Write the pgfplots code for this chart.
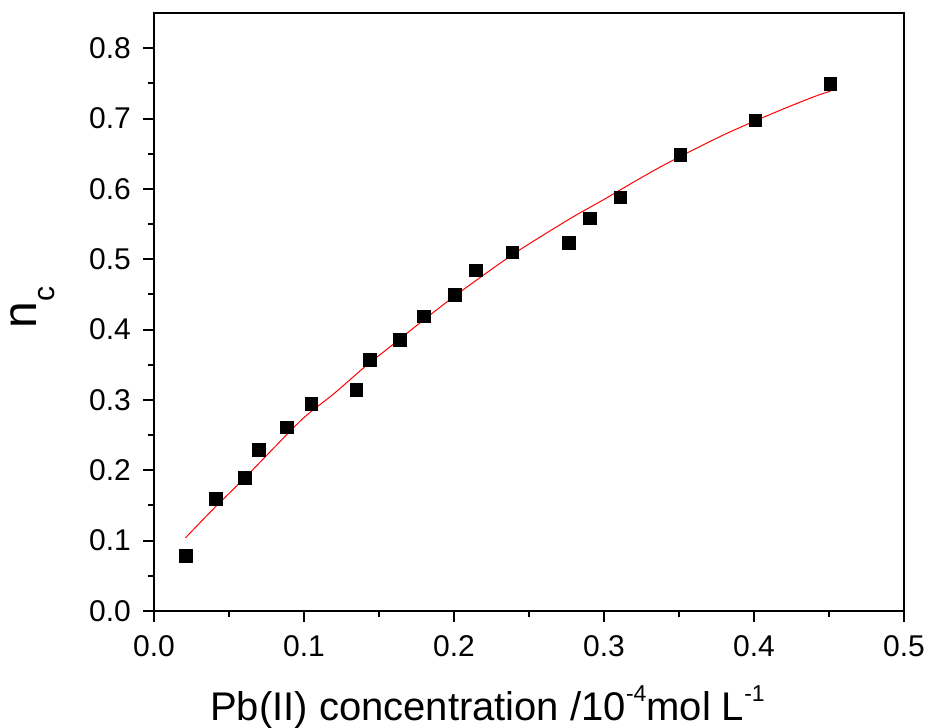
\documentclass[border=0pt]{standalone}
\usepackage{fontspec}
\setmainfont{Liberation Sans}
\usepackage{pgfplots}
\pgfplotsset{compat=1.18}
\begin{document}
\begin{tikzpicture}
\useasboundingbox (-154pt,-117pt) rectangle (775pt,611pt);
\begin{axis}[
  at={(0,0)}, anchor=south west,
  width=750pt, height=598pt, scale only axis,
  xmin=0, xmax=0.5, ymin=0, ymax=0.85,
  xtick={0,0.1,...,0.5}, ytick={0,0.1,...,0.8},
  minor x tick num=1, minor y tick num=1,
  xtick pos=left, ytick pos=left,
  tick align=outside,
  major tick length=11pt, minor tick length=6pt,
  every tick/.style={black, line width=2pt},
  axis line style={line width=2pt},
  /pgf/number format/assume math mode=true,
  /pgf/number format/fixed, /pgf/number format/fixed zerofill,
  /pgf/number format/precision=1,
  ticklabel style={font=\fontsize{30}{30}\selectfont, inner sep=0pt},
  xticklabel style={anchor=north, yshift=-13pt},
  yticklabel style={anchor=east, xshift=-12pt},
  xlabel={Pb(II) concentration /10\raisebox{19pt}{\fontsize{23}{23}\selectfont -4}mol L\raisebox{19pt}{\fontsize{23}{23}\selectfont -1}},
  xlabel style={font=\fontsize{40}{40}\selectfont, at={(axis description cs:0.0747,0)}, anchor=base west, yshift=-109pt, inner sep=0pt},
  ylabel={n\raisebox{-18pt}{\fontsize{30}{30}\selectfont c}},
  ylabel style={font=\fontsize{48}{48}\selectfont, at={(axis description cs:-0.156,0.507)}, anchor=base, inner sep=0pt},
  clip=false,
]
\addplot[red, line width=1pt, smooth] coordinates {
(0.021,0.104) (0.04,0.146) (0.06,0.188) (0.08,0.232) (0.1,0.275)
(0.12,0.309) (0.14,0.346) (0.16,0.380) (0.18,0.414) (0.2,0.447)
(0.22,0.478) (0.24,0.508) (0.26,0.535) (0.28,0.561) (0.3,0.585)
(0.32,0.610) (0.34,0.634) (0.36,0.656) (0.38,0.677) (0.4,0.696)
(0.42,0.714) (0.44,0.731) (0.451,0.739)
};
\addplot[only marks, mark=square*, mark size=6.2pt, mark options={fill=black, draw=black, line width=0pt}] coordinates {
(0.0213,0.078) (0.0413,0.159) (0.0607,0.189) (0.070,0.229) (0.0887,0.261)
(0.105,0.294) (0.135,0.314) (0.144,0.357) (0.164,0.385) (0.180,0.419)
(0.2007,0.449) (0.2147,0.484) (0.239,0.510) (0.2767,0.523) (0.2907,0.558)
(0.311,0.588) (0.351,0.648) (0.401,0.697) (0.451,0.749)
};
\end{axis}
\end{tikzpicture}
\end{document}
